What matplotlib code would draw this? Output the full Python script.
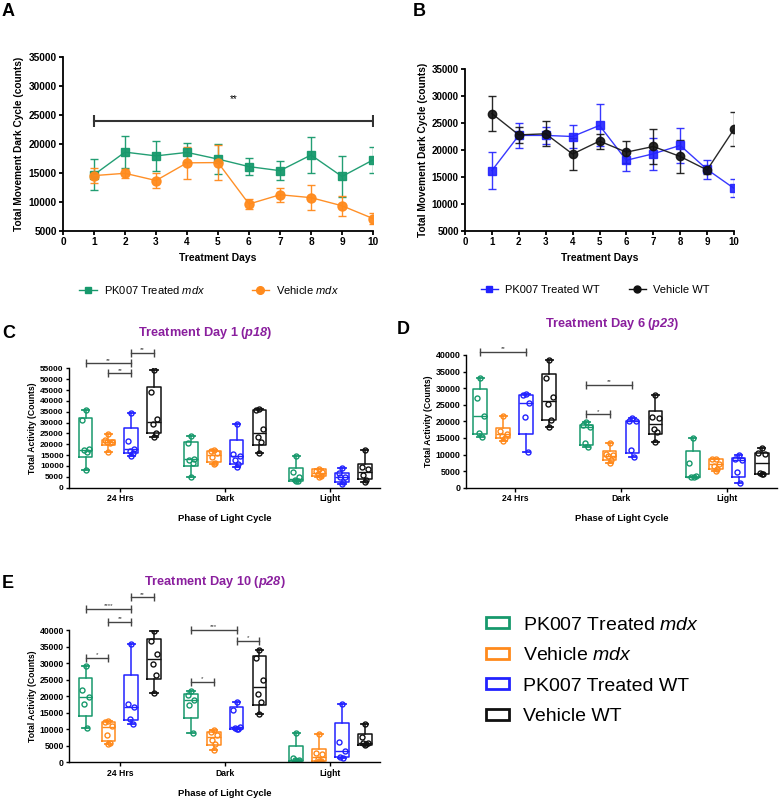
import matplotlib
matplotlib.use('Agg')
import matplotlib.pyplot as plt
from matplotlib.lines import Line2D
from matplotlib.patches import Rectangle

plt.rcParams['font.family'] = ['Liberation Sans', 'DejaVu Sans']
plt.rcParams['mathtext.fontset'] = 'custom'
plt.rcParams['mathtext.rm'] = 'Liberation Sans'
plt.rcParams['mathtext.it'] = 'Liberation Sans:italic'
plt.rcParams['mathtext.bf'] = 'Liberation Sans:bold'
plt.rcParams['mathtext.sf'] = 'Liberation Sans:bold:italic'

# ---------------- data: panels A & B (mean, sem) ----------------
DAYS = [1, 2, 3, 4, 5, 6, 7, 8, 9, 10]
A_TRT_MDX_MEAN = [14700, 18600, 17950, 18550, 17400, 16100, 15400, 18100, 14400, 17250]
A_TRT_MDX_ERR = [2700, 2750, 2650, 1600, 2600, 1450, 1650, 3050, 3500, 2200]
A_VEH_MDX_MEAN = [14550, 14950, 13700, 16750, 16800, 9650, 11250, 10750, 9350, 7150]
A_VEH_MDX_ERR = [1300, 800, 1300, 2700, 3000, 850, 1200, 2100, 1700, 1000]
B_TRT_WT_MEAN = [16200, 22700, 22700, 22500, 24550, 18100, 19300, 20850, 16400, 12900]
B_TRT_WT_ERR = [3400, 2250, 1500, 2200, 3900, 1950, 2950, 3200, 1700, 1650]
B_VEH_WT_MEAN = [26750, 22800, 23000, 19250, 21650, 19600, 20650, 18800, 16300, 23850]
B_VEH_WT_ERR = [3300, 1550, 2300, 2900, 1400, 2050, 3300, 3050, 750, 3100]
A_SIG = [1, 10, 23900, '**']

# ---------------- data: box panels C, D, E ----------------
PHASES = ['24 Hrs', 'Dark', 'Light']
GROUPS = ['PK007 Treated $\\mathit{mdx}$', 'Vehicle $\\mathit{mdx}$', 'PK007 Treated WT', 'Vehicle WT']
# box stats per phase: [min, q1, median, q3, max]
C_TRT_MDX_BOX = [[8300, 14300, 17200, 32000, 35700], [4800, 10100, 13200, 21200, 24000], [3100, 3100, 4200, 8900, 14800]]
C_TRT_MDX_PTS = [[35700, 31000, 18000, 17200, 16600, 8300], [24000, 20500, 13200, 12800, 11500, 4800], [14800, 7100, 5100, 3500, 3100, 3100]]
C_VEH_MDX_BOX = [[16600, 19700, 20900, 22000, 24700], [10900, 11700, 15000, 16900, 17400], [5100, 5200, 6800, 8400, 8700]]
C_VEH_MDX_PTS = [[24700, 21800, 21200, 20900, 20500, 16600], [17400, 16900, 16000, 14000, 11500, 10900], [8700, 7600, 7200, 6500, 5600, 5100]]
C_TRT_WT_BOX = [[14600, 15800, 17700, 27500, 34600], [9500, 10900, 14400, 22100, 29300], [1700, 2500, 5100, 6600, 9200]]
C_TRT_WT_PTS = [[34600, 21300, 17700, 16800, 15800, 14600], [29300, 15500, 14800, 12800, 11000, 9500], [9200, 7000, 5000, 4800, 2500, 1700]]
C_VEH_WT_BOX = [[23500, 25300, 30300, 46500, 54000], [16100, 19800, 25200, 35800, 36400], [2500, 3800, 7400, 11100, 17400]]
C_VEH_WT_PTS = [[54000, 44200, 31500, 29200, 25300, 23500], [36400, 36000, 27000, 23500, 21000, 16100], [17400, 9500, 8500, 6000, 3500, 2500]]
C_SIG = [(0, 0, 2, 57300, '**'), (0, 1, 2, 52700, '**'), (0, 2, 3, 62200, '**')]

D_TRT_MDX_BOX = [[15300, 16300, 21500, 29800, 33000], [12200, 12900, 18300, 18800, 19700], [3100, 3100, 3300, 11000, 15100]]
D_TRT_MDX_PTS = [[33000, 26900, 21500, 16500, 15300], [19700, 18800, 18300, 13500, 12200], [15100, 7400, 3400, 3200, 3100]]
D_VEH_MDX_BOX = [[14100, 14900, 16300, 18100, 21500], [7300, 8500, 9600, 11000, 13600], [5000, 5600, 7000, 8600, 8800]]
D_VEH_MDX_PTS = [[21500, 17000, 16300, 15700, 14900, 14100], [13600, 10200, 10000, 9600, 8500, 7300], [8800, 8600, 7000, 6500, 5600, 5000]]
D_TRT_WT_BOX = [[10900, 16200, 25400, 27800, 28100], [9400, 10400, 20000, 20100, 21100], [1500, 3100, 8300, 9000, 10000]]
D_TRT_WT_PTS = [[28100, 27800, 25400, 21200, 10900], [21100, 20200, 20000, 11400, 9400], [10000, 8600, 8300, 4700, 1500]]
D_VEH_WT_BOX = [[18400, 20300, 26200, 34200, 38400], [13900, 16200, 19200, 23000, 27900], [4000, 4000, 7400, 10400, 11900]]
D_VEH_WT_PTS = [[38400, 33000, 27300, 25100, 20300, 18400], [27900, 21400, 21100, 17600, 16900, 13900], [11900, 10400, 10300, 4300, 4100, 4000]]
D_SIG = [(0, 0, 2, 41000, '**'), (1, 0, 2, 30950, '**'), (1, 0, 1, 22100, '*')]

E_TRT_MDX_BOX = [[10300, 14100, 19700, 25500, 29100], [9000, 13300, 18900, 20700, 21500], [400, 500, 700, 4900, 8800]]
E_TRT_MDX_PTS = [[29100, 22000, 19700, 17800, 10300], [21500, 20300, 18900, 17400, 9000], [8800, 1300, 700, 600, 500, 400]]
E_VEH_MDX_BOX = [[5600, 6600, 10700, 12100, 12400], [3700, 5100, 7800, 9300, 9800], [400, 500, 1700, 3900, 8600]]
E_VEH_MDX_PTS = [[12400, 12100, 10900, 8400, 6000, 5600], [9800, 9300, 8400, 6800, 5500, 3700], [8600, 2800, 2400, 1000, 500, 400]]
E_TRT_WT_BOX = [[11700, 12700, 16800, 26500, 35900], [10000, 10000, 10700, 16900, 18300], [1400, 1700, 3300, 11800, 17600]]
E_TRT_WT_PTS = [[35900, 17700, 16800, 13200, 11700], [18300, 16000, 10600, 10300, 10100, 10000], [17600, 6200, 3300, 1700, 1400]]
E_VEH_WT_BOX = [[20900, 25200, 31200, 37500, 39800], [14500, 17500, 22700, 32100, 34100], [5300, 5300, 5800, 8600, 11500]]
E_VEH_WT_PTS = [[39800, 36800, 32800, 29900, 26600, 20900], [34100, 31600, 25000, 20700, 18200, 14500], [11500, 7700, 6000, 5800, 5500, 5300]]
E_SIG = [(0, 0, 1, 31600, '*'), (0, 0, 2, 46400, '****'), (0, 1, 2, 42500, '**'), (0, 2, 3, 50000, '**'),
         (1, 0, 2, 40100, '***'), (1, 2, 3, 36800, '*'), (1, 0, 1, 24300, '*')]

GREEN = '#17996C'
ORANGE = '#FF8A1C'
BLUE = '#2222FF'
BLACK = '#111111'
PURPLE = '#8A1F9E'
COLORS = [GREEN, ORANGE, BLUE, BLACK]
OFFSETS = [-0.325, -0.108, 0.108, 0.325]
JIT = [0.0, -0.03, 0.03, -0.015, 0.015, 0.0]

W, H = 779, 801
fig = plt.figure(figsize=(W / 100, H / 100), dpi=100)


def fax(l, t, r, b):
    return fig.add_axes([l / W, 1 - b / H, (r - l) / W, (b - t) / H])


def style_axes(ax, lw, fs):
    for s in ['top', 'right']:
        ax.spines[s].set_visible(False)
    for s in ['left', 'bottom']:
        ax.spines[s].set_linewidth(lw)
    ax.tick_params(width=lw, length=3, labelsize=fs, pad=1.5)
    for lab in ax.get_xticklabels() + ax.get_yticklabels():
        lab.set_fontweight('bold')


# ---------------- Panel A ----------------
axA = fax(63, 57, 373, 231)
axA.errorbar(DAYS, A_TRT_MDX_MEAN, yerr=A_TRT_MDX_ERR, color=GREEN, marker='s', ms=6, lw=1,
             elinewidth=1, capsize=3, capthick=1, alpha=0.95)
axA.errorbar(DAYS, A_VEH_MDX_MEAN, yerr=A_VEH_MDX_ERR, color=ORANGE, marker='o', ms=6.5, lw=1,
             elinewidth=1, capsize=3, capthick=1, alpha=0.95)
axA.plot([A_SIG[0], A_SIG[1]], [A_SIG[2], A_SIG[2]], color='#333333', lw=1.5, marker='|', ms=9, mew=1.5)
axA.text((A_SIG[0] + A_SIG[1]) / 2, A_SIG[2] + 3000, A_SIG[3], ha='center', va='bottom', fontsize=7)
axA.set_xlim(0, 10)
axA.set_ylim(5000, 35000)
axA.set_xticks(range(0, 11))
axA.set_yticks(range(5000, 35001, 5000))
axA.set_xlabel('Treatment Days', fontsize=7.5, fontweight='bold', labelpad=4)
axA.set_ylabel('Total Movement Dark Cycle (counts)', fontsize=7.3, fontweight='bold', labelpad=3)
style_axes(axA, 1.3, 7.3)

# ---------------- Panel B ----------------
axB = fax(465, 69, 734, 231)
axB.errorbar(DAYS, B_TRT_WT_MEAN, yerr=B_TRT_WT_ERR, color=BLUE, marker='s', ms=6, lw=1,
             elinewidth=1, capsize=3, capthick=1, alpha=0.9)
axB.errorbar(DAYS, B_VEH_WT_MEAN, yerr=B_VEH_WT_ERR, color=BLACK, marker='o', ms=6, lw=1,
             elinewidth=1, capsize=3, capthick=1, alpha=0.9)
axB.set_xlim(0, 10)
axB.set_ylim(5000, 35000)
axB.set_xticks(range(0, 11))
axB.set_yticks(range(5000, 35001, 5000))
axB.set_xlabel('Treatment Days', fontsize=7.5, fontweight='bold', labelpad=4)
axB.set_ylabel('Total Movement Dark Cycle (counts)', fontsize=7.3, fontweight='bold', labelpad=3)
style_axes(axB, 1.3, 7.0)

# legends for A and B
hA = [Line2D([], [], color=GREEN, marker='s', ms=5, lw=1),
      Line2D([], [], color=ORANGE, marker='o', ms=5.5, lw=1)]
fig.legend(hA, GROUPS[:2], loc='center', bbox_to_anchor=(209 / W, 1 - 290 / H), ncol=2, frameon=False,
           fontsize=8, handlelength=1.6, columnspacing=4.2, handletextpad=0.6)
hB = [Line2D([], [], color=BLUE, marker='s', ms=5, lw=1),
      Line2D([], [], color=BLACK, marker='o', ms=5, lw=1)]
fig.legend(hB, GROUPS[2:], loc='center', bbox_to_anchor=(595 / W, 1 - 290 / H), ncol=2, frameon=False,
           fontsize=8, handlelength=1.6, columnspacing=2.6, handletextpad=0.6)


# ---------------- box panels ----------------
def box_panel(ax, boxes, pts, sigs, ymax, step, fs_tick, title, title_xy, tsize):
    for gi, (bx, pt) in enumerate(zip(boxes, pts)):
        c = COLORS[gi]
        stats = []
        pos = []
        for ci in range(3):
            mn, q1, md, q3, mx = bx[ci]
            stats.append({'whislo': mn, 'q1': q1, 'med': md, 'q3': q3, 'whishi': mx, 'fliers': []})
            pos.append(ci + OFFSETS[gi])
        ax.bxp(stats, positions=pos, widths=0.13, showfliers=False, capwidths=0.07,
               boxprops=dict(color=c, lw=1.1), medianprops=dict(color=c, lw=1.0),
               whiskerprops=dict(color=c, lw=1.1), capprops=dict(color=c, lw=1.3))
        for ci in range(3):
            xs = [ci + OFFSETS[gi] + JIT[k % len(JIT)] for k in range(len(pt[ci]))]
            ax.plot(xs, pt[ci], linestyle='none', marker='o', ms=3.6, mfc='none', mec=c, mew=1.0)
    for (ci, g1, g2, y, lab) in sigs:
        x1 = ci + OFFSETS[g1]
        x2 = ci + OFFSETS[g2]
        ax.plot([x1, x2], [y, y], color='#444444', lw=1.0, marker='|', ms=6, mew=1.0, clip_on=False)
        ax.text((x1 + x2) / 2, y + ymax * 0.005, lab, ha='center', va='bottom', fontsize=4.5, color='#333333')
    ax.set_ylim(0, ymax)
    ax.set_yticks(range(0, ymax + 1, step))
    ax.set_xticks(range(3))
    ax.set_xticklabels(PHASES)
    ax.set_xlabel('Phase of Light Cycle', fontsize=6.8, fontweight='bold', labelpad=8)
    ax.set_ylabel('Total Activity (Counts)', fontsize=6.2, fontweight='bold', labelpad=2)
    style_axes(ax, 1.0, fs_tick)
    ax.tick_params(axis='x', labelsize=6.2)
    ax.tick_params(axis='y', length=2.5)
    fig.text(title_xy[0] / W, 1 - title_xy[1] / H, title, ha='center', va='center', fontsize=tsize,
             fontweight='bold', color=PURPLE)


axC = fax(69.3, 368.3, 380, 487.7)
axC.set_xlim(-0.48, 2.47)
box_panel(axC, [C_TRT_MDX_BOX, C_VEH_MDX_BOX, C_TRT_WT_BOX, C_VEH_WT_BOX],
          [C_TRT_MDX_PTS, C_VEH_MDX_PTS, C_TRT_WT_PTS, C_VEH_WT_PTS], C_SIG, 55000, 5000, 6.0,
          'Treatment Day 1 ($\\mathsf{p18}$)', (205, 333), 9.2)

axD = fax(466, 355, 777, 487.7)
axD.set_xlim(-0.46, 2.47)
box_panel(axD, [D_TRT_MDX_BOX, D_VEH_MDX_BOX, D_TRT_WT_BOX, D_VEH_WT_BOX],
          [D_TRT_MDX_PTS, D_VEH_MDX_PTS, D_TRT_WT_PTS, D_VEH_WT_PTS], D_SIG, 40000, 5000, 6.4,
          'Treatment Day 6 ($\\mathsf{p23}$)', (612, 324), 9.2)

axE = fax(69.3, 630.3, 380, 762.3)
axE.set_xlim(-0.48, 2.47)
box_panel(axE, [E_TRT_MDX_BOX, E_VEH_MDX_BOX, E_TRT_WT_BOX, E_VEH_WT_BOX],
          [E_TRT_MDX_PTS, E_VEH_MDX_PTS, E_TRT_WT_PTS, E_VEH_WT_PTS], E_SIG, 40000, 5000, 6.2,
          'Treatment Day 10 ($\\mathsf{p28}$)', (215, 582), 9.2)

# bottom-right legend
hL = [Rectangle((0, 0), 1, 1, facecolor='none', edgecolor=c, lw=2) for c in COLORS]
fig.legend(hL, GROUPS, loc='upper left', bbox_to_anchor=(468 / W, 1 - 599 / H), frameon=False,
           fontsize=14, handlelength=1.2, handleheight=0.5, handletextpad=0.75, labelspacing=0.7)

# panel letters
for lab, x, y in [('A', 2, 12), ('B', 413, 12), ('C', 2, 333), ('D', 397, 330), ('E', 2, 583)]:
    fig.text(x / W, 1 - y / H, lab, ha='left', va='center', fontsize=13, fontweight='bold')

fig.savefig('out.png', dpi=100)
